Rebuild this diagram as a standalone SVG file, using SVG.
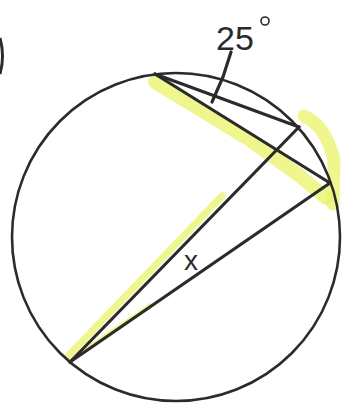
<svg xmlns="http://www.w3.org/2000/svg" width="342" height="406" viewBox="0 0 342 406">
<style>
.hl{fill:none;stroke:#eaf25e;stroke-linecap:round;stroke-linejoin:round;opacity:0.7}
.ln{fill:none;stroke:#2b2b2b;stroke-width:3.2;stroke-linecap:round}
.lbl{font-family:"Liberation Sans",Arial,sans-serif;fill:#2b2b2b}
</style>
<rect width="342" height="406" fill="#ffffff"/>
<g id="highlights">
<path class="hl" d="M155 82 L250 140 L300 176 L326 198" stroke-width="14"/>
<path class="hl" d="M304 116 Q326 126 334 160 L333 204" stroke-width="13"/>
<path class="hl" d="M68 356 L222 196" stroke-width="7"/>
<path class="hl" d="M80 354 L150 306" stroke-width="5"/>
</g>
<path d="M0 38 Q5 56 0 74" fill="none" stroke="#2b2b2b" stroke-width="3"/>
<g id="circle">
<circle cx="176" cy="237" r="164" fill="none" stroke="#2b2b2b" stroke-width="2.6"/>
</g>
<g id="connectors">
<line class="ln" x1="155" y1="74" x2="299" y2="127"/>
<line class="ln" x1="155" y1="74" x2="330" y2="183"/>
<line class="ln" x1="299" y1="127" x2="70" y2="362"/>
<line class="ln" x1="330" y1="183" x2="70" y2="362"/>
<path class="ln" d="M231 52 L223 77 L212 102" stroke-width="2.6"/>
</g>
<g id="label-25">
<text class="lbl" x="216" y="50" font-size="34">25</text>
<circle cx="265" cy="21" r="4" fill="none" stroke="#2b2b2b" stroke-width="1.6"/>
</g>
<g id="label-x">
<text class="lbl" x="184" y="270" font-size="28">x</text>
</g>
</svg>
